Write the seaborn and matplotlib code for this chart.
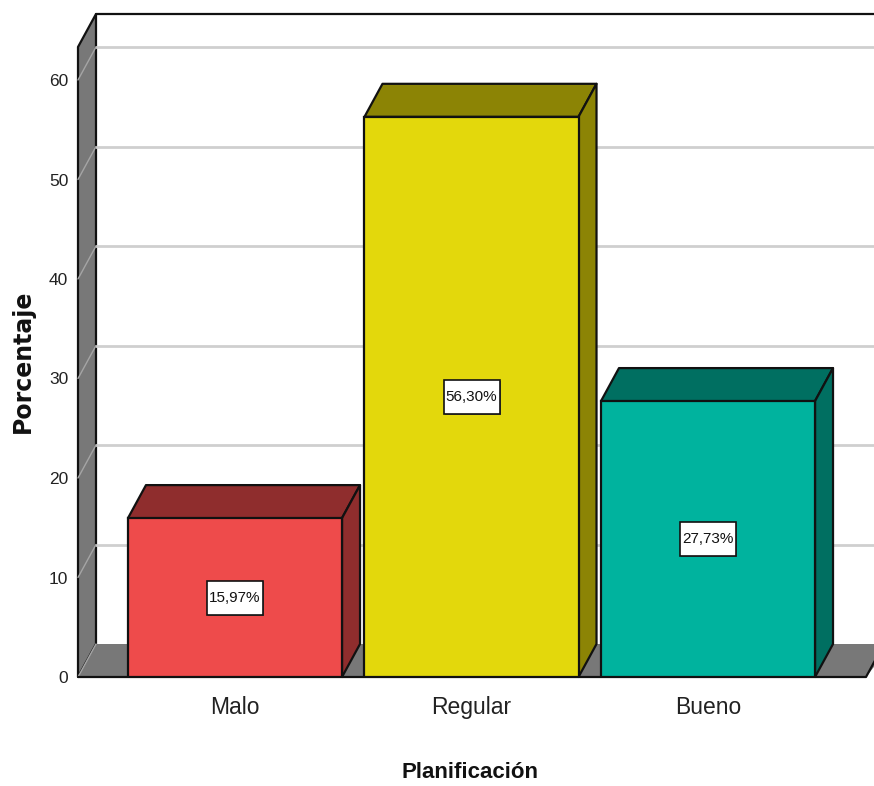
import matplotlib
matplotlib.use("Agg")
import matplotlib.pyplot as plt
from matplotlib.patches import Polygon, Rectangle
from matplotlib import patheffects as pe
import pandas as pd
import seaborn as sns

categories = ["Malo", "Regular", "Bueno"]
percentages = [15.97, 56.30, 27.73]
value_labels = ["15,97%", "56,30%", "27,73%"]
front_colors = ["#EE4B4B", "#E3D80C", "#00B39E"]
shade_colors = ["#8F2D2D", "#8C8405", "#006F61"]
y_ticks = [0, 10, 20, 30, 40, 50, 60]

W, H = 874, 786
SANS = ["Liberation Sans", "DejaVu Sans"]
WALL = "#787878"
EDGE = "#111111"
GRID = "#CFCFCF"

sns.set_theme(style="white")
fig = plt.figure(figsize=(W / 100, H / 100), dpi=100)

# Axes span the front plane of the 3D box; the depth faces extend past it.
left, right, base, top = 78, 874, 677, 47
ax = fig.add_axes([left / W, 1 - base / H, (right - left) / W, (base - top) / H])
ax.patch.set_alpha(0)

df = pd.DataFrame({"Planificación": categories, "Porcentaje": percentages})
sns.barplot(data=df, x="Planificación", y="Porcentaje", hue="Planificación",
            palette=front_colors, width=0.905, edgecolor=EDGE, linewidth=1.6,
            saturation=1, legend=False, ax=ax, zorder=5)

px_x, px_y = 236.5, 9.95
ax.set_xlim((left - 235) / px_x, (right - 235) / px_x)
ax.set_ylim(0, (base - top) / px_y)
dx, dy = 18 / px_x, 33 / px_y
x0, x1 = ax.get_xlim()
y1 = ax.get_ylim()[1]
floor_end = x1 - 8 / px_x
box_w, box_h = 56 / px_x, 34 / px_y


def face(points, color, z, edge=EDGE, lw=1.6):
    ax.add_patch(Polygon(points, closed=True, facecolor=color, edgecolor=edge,
                         linewidth=lw, zorder=z, clip_on=False, joinstyle="round"))


# Side wall and floor of the box
face([(x0, 0), (x0 + dx, dy), (x0 + dx, y1 + dy), (x0, y1)], WALL, 1)
face([(x0, 0), (x0 + dx, dy), (x1 + dx, dy), (floor_end, 0)], WALL, 1, edge="none", lw=0)
ax.plot([x0, floor_end, floor_end + dx], [0, 0, dy], color=EDGE, lw=1.6, zorder=2,
        clip_on=False)
ax.plot([x0 + dx, x1], [y1 + dy, y1 + dy], color=EDGE, lw=1.6, zorder=2, clip_on=False)

# Gridlines on the back wall, running on across the side wall
for t in y_ticks[1:]:
    ax.plot([x0 + dx, x1], [t + dy, t + dy], color=GRID, lw=2, zorder=1.5, clip_on=False)
for t in y_ticks:
    ax.plot([x0, x0 + dx], [t, t + dy], color="#A5A5A5", lw=1, zorder=1.5, clip_on=False)

# Top and right faces of each bar, offset from the front rectangle
for bar, shade, label in zip(ax.patches, shade_colors, value_labels):
    xa, xb = bar.get_x(), bar.get_x() + bar.get_width()
    h = bar.get_height()
    face([(xa, h), (xa + dx, h + dy), (xb + dx, h + dy), (xb, h)], shade, 4)
    face([(xb, 0), (xb + dx, dy), (xb + dx, h + dy), (xb, h)], shade, 4)
    xc = (xa + xb) / 2
    ax.add_patch(Rectangle((xc - box_w / 2, h / 2 - box_h / 2), box_w, box_h,
                           facecolor="white", edgecolor=EDGE, linewidth=1.2, zorder=6,
                           path_effects=[pe.withSimplePatchShadow((1, -1), "#555555", 0.8)]))
    ax.text(xc, h / 2, label, ha="center", va="center", fontsize=11,
            family=SANS, color="#111111", zorder=7)

sns.despine(ax=ax, left=True, bottom=True, right=True, top=True)
ax.set_yticks(y_ticks)
ax.set_yticklabels([str(t) for t in y_ticks], family=SANS, fontsize=12.5, color="#222222")
ax.set_xticks(range(len(categories)))
ax.set_xticklabels(categories, family=SANS, fontsize=16.5, color="#222222")
ax.tick_params(axis="y", length=0, pad=7)
ax.tick_params(axis="x", length=0, pad=14)
ax.set_xlabel("")
ax.set_ylabel("")

fig.text(470 / W, 1 - 773 / H, "Planificación", ha="center", va="center",
         family=SANS, fontsize=16, fontweight="bold", color="#111111")
fig.text(23 / W, 1 - 361 / H, "Porcentaje", ha="center", va="center", rotation=90,
         family="DejaVu Sans", fontsize=17, fontweight="bold", color="#111111")

fig.savefig("out.png", dpi=100)
